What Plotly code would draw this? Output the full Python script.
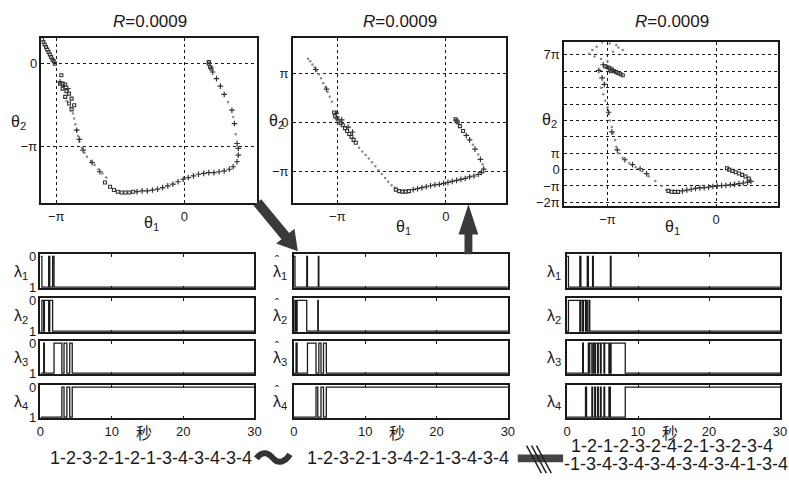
import plotly.graph_objects as go

W, H = 789, 480
FONT = "Liberation Sans, Arial, Noto Sans CJK SC, sans-serif"
INK = "#1a1a1a"

# ---------------- data : phase-plane trajectories (units of pi) ----------------
# left panel
A_sq_x = [-1.11, -1.10, -1.09, -1.08, -1.07, -1.06, -1.05, -1.04, -1.03, -1.02, -1.01,
          -0.96, -0.97, -0.95, -0.93, -0.95, -0.92, -0.90, -0.93, -0.88, -0.90, -0.86, -0.88,
          -0.62, -0.58, -0.55, -0.52, -0.49, -0.46, -0.43, -0.40,
          0.20, 0.19, 0.19, 0.21]
A_sq_y = [0.29, 0.26, 0.23, 0.20, 0.17, 0.14, 0.11, 0.08, 0.05, 0.03, 0.00,
          -0.14, -0.24, -0.24, -0.25, -0.30, -0.33, -0.36, -0.40, -0.42, -0.48, -0.50, -0.55,
          -1.43, -1.48, -1.52, -1.54, -1.55, -1.55, -1.55, -1.54,
          -0.04, 0.00, 0.02, -0.06]
A_pl_x = [-0.97, -0.94, -0.91, -0.84, -0.82, -0.79, -0.72, -0.66,
          -0.37, -0.33, -0.29, -0.25, -0.21, -0.17, -0.13, -0.09, -0.05, -0.01, 0.03, 0.07,
          0.11, 0.15, 0.19, 0.23, 0.27, 0.31, 0.35, 0.38, 0.41, 0.42, 0.42, 0.41,
          0.39, 0.37, 0.31, 0.28, 0.25, 0.22]
A_pl_y = [-0.22, -0.27, -0.30, -0.80, -0.91, -1.04, -1.19, -1.30,
          -1.54, -1.53, -1.53, -1.52, -1.51, -1.49, -1.47, -1.45, -1.42, -1.39, -1.37, -1.35,
          -1.33, -1.32, -1.31, -1.31, -1.30, -1.29, -1.27, -1.24, -1.18, -1.10, -1.02, -0.96,
          -0.72, -0.56, -0.37, -0.27, -0.18, -0.10]
A_dt_x = [-0.86, -0.85, -0.84, -0.83, -0.82, -0.80, -0.78, -0.76, -0.73, -0.70, -0.67,
          -0.64, -0.61, -0.92, -0.89, -0.87, 0.40, 0.38, 0.34]
A_dt_y = [-0.66, -0.73, -0.80, -0.87, -0.94, -1.01, -1.07, -1.12, -1.17, -1.22, -1.27,
          -1.32, -1.37, -0.45, -0.52, -0.60, -0.85, -0.64, -0.46]

# middle panel
B_sq_x = [-1.03, -1.02, -1.00, -0.99, -0.97, -0.95, -0.93, -0.91, -0.89, -0.87, -0.85, -0.83,
          -0.46, -0.43, -0.40, -0.37, -0.34,
          0.16, 0.13, 0.11, 0.09, 0.10]
B_sq_y = [0.20, 0.12, 0.08, 0.02, -0.02, -0.06, -0.12, -0.18, -0.24, -0.30, -0.36, -0.42,
          -1.38, -1.41, -1.42, -1.42, -1.41,
          -0.18, -0.08, 0.00, 0.06, 0.03]
B_pl_x = [-1.01, -0.96, -0.90, -0.86, -1.20, -1.10,
          -0.30, -0.26, -0.22, -0.18, -0.14, -0.10, -0.06, -0.02, 0.02, 0.06, 0.10, 0.14,
          0.18, 0.22, 0.26, 0.30, 0.33, 0.35, 0.32, 0.27, 0.22, 0.19]
B_pl_y = [0.18, 0.05, -0.10, -0.20, 1.08, 0.68,
          -1.38, -1.36, -1.34, -1.32, -1.30, -1.28, -1.27, -1.25, -1.23, -1.21, -1.19, -1.17,
          -1.15, -1.12, -1.10, -1.07, -1.03, -0.96, -0.76, -0.55, -0.36, -0.27]
B_dt_x = [-1.27, -1.25, -1.23, -1.21, -1.19, -1.17, -1.15, -1.13, -1.11, -1.09, -1.07, -1.05,
          -0.80, -0.77, -0.74, -0.71, -0.68, -0.65, -0.62, -0.59, -0.56, -0.53, -0.50, -0.47,
          0.34, 0.30, 0.25]
B_dt_y = [1.30, 1.25, 1.18, 1.12, 1.06, 0.98, 0.90, 0.80, 0.72, 0.62, 0.52, 0.42,
          -0.52, -0.60, -0.67, -0.74, -0.82, -0.90, -0.98, -1.06, -1.14, -1.22, -1.29, -1.34,
          -0.86, -0.66, -0.46]

# right panel
C_sq_x = [-1.02, -1.00, -0.98, -0.96, -0.94, -0.92, -0.90, -0.88, -0.86, -0.97,
          -0.44, -0.41, -0.38, -0.35,
          0.30, 0.27, 0.24, 0.21, 0.18, 0.15, 0.12, 0.10]
C_sq_y = [6.30, 6.25, 6.18, 6.10, 6.02, 5.95, 5.88, 5.82, 5.76, 6.00,
          -1.30, -1.35, -1.36, -1.36,
          -0.55, -0.42, -0.32, -0.24, -0.16, -0.08, 0.00, 0.08]
C_pl_x = [-1.04, -1.08, -1.05, -1.03, -0.99, -0.96, -0.91, -0.84, -0.77, -0.70, -0.64,
          -0.31, -0.27, -0.23, -0.19, -0.15, -0.11, -0.07, -0.03, 0.01, 0.05, 0.09, 0.13,
          0.17, 0.21, 0.25, 0.29, 0.32]
C_pl_y = [6.40, 6.05, 5.60, 5.20, 3.50, 2.30, 1.20, 0.60, 0.30, 0.05, -0.25,
          -1.30, -1.25, -1.20, -1.15, -1.12, -1.10, -1.07, -1.03, -1.00, -0.98, -0.96, -0.93,
          -0.90, -0.86, -0.82, -0.77, -0.72]
C_dt_x = [-1.05, -1.10, -1.14, -1.17, -1.12, -1.06, -1.00, -0.95, -0.90, -0.86, -0.92, -0.98,
          -1.06, -1.04, -1.02, -1.00, -0.99, -0.98, -0.96, -0.95, -0.93, -0.92, -0.90, -0.86,
          -0.80, -0.74, -0.68, -0.62, -0.56, -0.50, -0.46]
C_dt_y = [7.75, 7.50, 7.30, 7.07, 6.90, 6.75, 6.60, 7.20, 7.45, 7.30, 7.60, 7.70,
          5.00, 4.60, 4.20, 3.80, 3.40, 3.00, 2.60, 2.20, 1.80, 1.40, 1.00, 0.70,
          0.40, 0.15, -0.10, -0.40, -0.70, -1.00, -1.25]

# ---------------- data : switching sequences ----------------
left_modes = [1, 2, 3, 2, 1, 2, 1, 3, 4, 3, 4, 3, 4]
left_times = [0.0, 0.2, 0.45, 0.55, 1.15, 1.3, 1.7, 1.9, 3.0, 3.3, 3.7, 4.1, 4.45]
mid_modes = [1, 2, 3, 2, 1, 3, 4, 2, 1, 3, 4, 3, 4]
mid_times = [0.0, 0.15, 0.3, 0.45, 1.8, 1.9, 3.1, 3.35, 3.42, 3.5, 3.8, 4.15, 4.55]
right_modes = [1, 2, 1, 2, 3, 2, 4, 2, 1, 3, 2, 3, 4, 1, 3, 4, 3, 4, 3, 4, 3, 4, 3, 4, 3, 4, 1, 3, 4]
right_times = [0.0, 0.2, 1.8, 1.95, 2.2, 2.3, 2.6, 2.75, 2.85, 3.0, 3.1, 3.2, 3.5, 3.6, 3.7,
               3.9, 4.0, 4.3, 4.4, 4.7, 4.8, 5.2, 5.3, 5.9, 6.0, 6.05, 6.1, 6.2, 8.2]
T_END = 30

titles = ["<i>R</i>=0.0009", "<i>R</i>=0.0009", "<i>R</i>=0.0009"]
captions = ["1-2-3-2-1-2-1-3-4-3-4-3-4", "1-2-3-2-1-3-4-2-1-3-4-3-4",
            "1-2-1-2-3-2-4-2-1-3-2-3-4", "-1-3-4-3-4-3-4-3-4-3-4-1-3-4"]
x_ticks = [0, 10, 20, 30]


def fx(p):
    return p / W


def fy(p):
    return 1 - p / H


fig = go.Figure()
layout = {}
annotations = []
shapes = []
ax_i = [0]


def new_axes(xdom, ydom, xopts, yopts):
    ax_i[0] += 1
    n = ax_i[0]
    xs = "" if n == 1 else str(n)
    layout["xaxis" + xs] = dict(domain=[fx(xdom[0]), fx(xdom[1])], anchor="y" + xs, **xopts)
    layout["yaxis" + xs] = dict(domain=[fy(ydom[1]), fy(ydom[0])], anchor="x" + xs, **yopts)
    return "x" + xs, "y" + xs


frame = dict(showline=True, mirror=True, linecolor=INK, linewidth=1.5, zeroline=False)
gridopt = dict(showgrid=True, gridcolor=INK, griddash="dot", gridwidth=1)
tickf = dict(family=FONT, size=13, color=INK)

# ---------------- top phase plots ----------------
top = [
    dict(xd=(38, 257), yd=(34, 203), xr=[-1.115, 0.569], yr=[-1.68, 0.306],
         yt=[-1, 0], ytt=["−π", "0"],
         sq=(A_sq_x, A_sq_y), pl=(A_pl_x, A_pl_y), dt=(A_dt_x, A_dt_y)),
    dict(xd=(293, 509), yd=(34, 203), xr=[-1.41, 0.555], yr=[-1.66, 1.72],
         yt=[-1, 0, 1], ytt=["−π", "0", "π"],
         sq=(B_sq_x, B_sq_y), pl=(B_pl_x, B_pl_y), dt=(B_dt_x, B_dt_y)),
    dict(xd=(568, 785), yd=(38, 206), xr=[-1.4, 0.57], yr=[-2.24, 7.78],
         yt=[-2, -1, 0, 1, 2, 3, 4, 5, 6, 7],
         ytt=["−2π", "−π", "0", "π", " ", " ", " ", " ", " ", "7π"],
         sq=(C_sq_x, C_sq_y), pl=(C_pl_x, C_pl_y), dt=(C_dt_x, C_dt_y)),
]
for p in top:
    xa, ya = new_axes(p["xd"], p["yd"],
                      dict(range=p["xr"], tickvals=[-1, 0], ticktext=["−π", "0"],
                           ticks="", tickfont=tickf, **frame, **gridopt),
                      dict(range=p["yr"], tickvals=p["yt"], ticktext=p["ytt"],
                           ticks="", tickfont=tickf, **frame, **gridopt))
    fig.add_trace(go.Scatter(x=p["dt"][0], y=p["dt"][1], mode="markers", xaxis=xa, yaxis=ya,
                             marker=dict(size=2.5, color="#8a8a8a"), showlegend=False))
    fig.add_trace(go.Scatter(x=p["pl"][0], y=p["pl"][1], mode="markers", xaxis=xa, yaxis=ya,
                             marker=dict(size=4, symbol="cross-thin",
                                         line=dict(width=1.2, color="#333")), showlegend=False))
    fig.add_trace(go.Scatter(x=p["sq"][0], y=p["sq"][1], mode="markers", xaxis=xa, yaxis=ya,
                             marker=dict(size=3, symbol="square-open", color="#333",
                                         line=dict(width=1.1)), showlegend=False))

# ---------------- bottom switching plots ----------------
cols = [
    dict(xd=(37, 254), times=left_times, modes=left_modes, hat=False, lx=17, yl=True),
    dict(xd=(294, 511), times=mid_times, modes=mid_modes, hat=True, lx=280, yl=False),
    dict(xd=(571, 787), times=right_times, modes=right_modes, hat=False, lx=558, yl=False),
]
rows = [(255, 290), (300, 335), (344, 378), (389, 423)]


def txt(x, y, s, size=15, fam=FONT, xanchor="center"):
    annotations.append(dict(x=fx(x), y=fy(y), xref="paper", yref="paper", text=s, showarrow=False,
                            xanchor=xanchor, yanchor="middle",
                            font=dict(family=fam, size=size, color=INK)))


for c in cols:
    for r, yd in enumerate(rows):
        k = r + 1
        last = r == 3
        xa, ya = new_axes(c["xd"], yd,
                          dict(range=[0, 30], tickvals=x_ticks, ticks="inside", ticklen=3,
                               tickcolor=INK, showticklabels=last, tickfont=tickf,
                               showgrid=False, **{**frame, "mirror": "ticks"}),
                          dict(range=[1.04, -0.07], tickvals=[0, 1], ticktext=["0", "1"],
                               ticks="", showticklabels=c["yl"], tickfont=tickf,
                               showgrid=False, **frame))
        xs = list(c["times"]) + [T_END]
        ys = [0 if m == k else 1 for m in c["modes"]]
        ys = ys + [ys[-1]]
        fig.add_trace(go.Scatter(x=xs, y=ys, mode="lines", line=dict(shape="hv", width=1.3, color=INK),
                                 xaxis=xa, yaxis=ya, showlegend=False))
        yc = (yd[0] + yd[1]) / 2
        txt(c["lx"], yc + 1, f"λ<sub>{k}</sub>", size=16)
        if c["hat"]:
            txt(c["lx"] - 3, yc - 11, "ˆ", size=12)
    txt((c["xd"][0] + c["xd"][1]) / 2 - 4, 437, "秒", size=16, fam="Noto Sans CJK SC")

# ---------------- text ----------------
for x, s in zip([148, 402, 677], titles):
    txt(x, 17, s, size=17)
txt(150, 224, "θ<sub>1</sub>", size=16)
txt(405, 228, "θ<sub>1</sub>", size=16)
txt(678, 228, "θ<sub>1</sub>", size=16)
txt(15, 120, "θ<sub>2</sub>", size=16)
txt(276, 119, "θ<sub>2</sub>", size=16)
txt(553, 118, "θ<sub>2</sub>", size=16)
txt(149, 464, captions[0], size=18)
txt(410, 464, captions[1], size=18)
txt(677, 451, captions[2], size=18)
txt(566, 470, captions[3], size=18, xanchor="left")


# ---------------- decorations ----------------
def pt(a, b):
    return f"{fx(a):.5f},{fy(b):.5f}"


def path(pts):
    return "M " + " L ".join(pt(a, b) for a, b in pts) + " Z"


shapes.append(dict(type="path", xref="paper", yref="paper", fillcolor="#3a3a3a", line=dict(width=0),
                   path=path([(253.1, 205.2), (281.4, 239.7), (276.0, 244.1), (298, 252),
                              (294.6, 228.9), (289.2, 233.3), (260.9, 198.8)])))
shapes.append(dict(type="path", xref="paper", yref="paper", fillcolor="#3a3a3a", line=dict(width=0),
                   path=path([(467, 255), (467, 235), (461, 235), (471, 204), (481, 235),
                              (475, 235), (475, 255)])))
shapes.append(dict(type="path", xref="paper", yref="paper", line=dict(width=6, color="#333"),
                   path=f"M {pt(256, 464)} C {pt(262, 456)} {pt(268, 458)} {pt(273, 464)} "
                        f"C {pt(278, 470)} {pt(285, 468)} {pt(290, 460)}"))
shapes.append(dict(type="rect", xref="paper", yref="paper", x0=fx(521), x1=fx(567), y0=fy(468), y1=fy(460),
                   fillcolor="#444", line=dict(width=0)))
for d in (0, 5, 10):
    shapes.append(dict(type="line", xref="paper", yref="paper", x0=fx(530 + d), y0=fy(451),
                       x1=fx(545 + d), y1=fy(479), line=dict(width=1.5, color="#222")))

layout.update(dict(width=W, height=H, margin=dict(l=0, r=0, t=0, b=0),
                   paper_bgcolor="white", plot_bgcolor="white",
                   annotations=annotations, shapes=shapes, showlegend=False,
                   font=dict(family=FONT, color=INK)))
fig.update_layout(**layout)
fig.write_html("out.html", config={"displayModeBar": False},
               post_script="document.body.style.margin='0';document.body.style.overflow='hidden';")
